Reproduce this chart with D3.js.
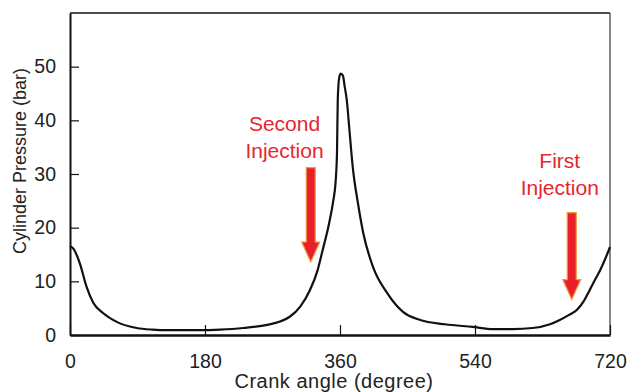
<!DOCTYPE html>
<html>
<head>
<meta charset="utf-8">
<script src="https://cdn.jsdelivr.net/npm/d3@7"></script>
<style>
  body { margin: 0; background: #fff; }
  text { font-family: "Liberation Sans", Arial, sans-serif; }
</style>
</head>
<body>
<div id="chart"></div>
<script>
// crank angle (deg) and cylinder pressure (bar)
var angle    = [0, 5, 13, 22, 31, 44, 63, 89, 110, 130, 173, 200, 231, 263, 280, 293, 307, 320, 330, 337, 345, 351, 354, 356, 357, 359, 361, 364, 366, 369, 373, 377, 384, 391, 404, 423, 444, 467, 500, 537, 564, 590, 617, 640, 653, 666, 676, 685, 693, 700, 707, 714, 720];
var pressure = [16.6, 16.0, 13.4, 9.0, 6.0, 4.1, 2.4, 1.3, 1.0, 0.9, 0.9, 1.0, 1.3, 1.9, 2.5, 3.4, 5.3, 8.4, 12.0, 15.9, 20.5, 25.0, 28.3, 34, 43.8, 48.0, 48.7, 48.3, 46.5, 43.8, 37.5, 31.3, 24.5, 19.0, 12.7, 7.8, 4.3, 2.8, 2.0, 1.5, 1.1, 1.1, 1.3, 2.0, 2.8, 3.8, 4.7, 6.3, 8.4, 10.3, 12.1, 14.3, 16.4];

var xTicks = [0, 180, 360, 540, 720];
var yTicks = [0, 10, 20, 30, 40, 50];

// injection arrows: label lines, angle, start and end pressure
var injLabels = [["Second", "Injection"], ["First", "Injection"]];
var injAngle  = [321, 669];
var injFrom   = [31.2, 22.8];
var injTo     = [13.6, 6.6];
var injLabelAngle = [286, 653];
var injLabelP     = [38.1, 31.2];

var margin = {top: 13, right: 19, bottom: 57, left: 70},
    width = 629 - margin.left - margin.right,
    height = 392 - margin.top - margin.bottom;

var x = d3.scaleLinear().domain([0, 720]).range([0, width]);
var y = d3.scaleLinear().domain([0, 60]).range([height, 0]);

var svg = d3.select("#chart").append("svg")
    .attr("width", 629)
    .attr("height", 392)
  .append("g")
    .attr("transform", "translate(" + margin.left + "," + margin.top + ")");

// frame
svg.append("line").attr("x1", 0).attr("x2", width).attr("y1", 0).attr("y2", 0)
    .style("stroke", "#111").style("stroke-width", 1.5);
svg.append("line").attr("x1", width).attr("x2", width).attr("y1", 0).attr("y2", height)
    .style("stroke", "#444").style("stroke-width", 1.3);

// the curve
var line = d3.line()
    .x(function(d, i) { return x(angle[i]); })
    .y(function(d) { return y(d); })
    .curve(d3.curveMonotoneX);

svg.append("path")
    .datum(pressure)
    .attr("d", line)
    .style("fill", "none")
    .style("stroke", "#111")
    .style("stroke-width", 2.2)
    .style("stroke-linejoin", "round");

// axes with inward ticks
var xAxis = svg.append("g")
    .attr("transform", "translate(0," + height + ")")
    .call(d3.axisBottom(x).tickValues(xTicks).tickSizeInner(-10).tickSizeOuter(0).tickPadding(19));
xAxis.select(".domain").style("stroke", "#111").style("stroke-width", 2.5);
xAxis.selectAll(".tick line").style("stroke", "#111").style("stroke-width", 1.2);
xAxis.selectAll("text").style("font-size", "19.5px").style("fill", "#222");

var yAxis = svg.append("g")
    .call(d3.axisLeft(y).tickValues(yTicks).tickSizeInner(-9).tickSizeOuter(0).tickPadding(14));
yAxis.select(".domain").style("stroke", "#111").style("stroke-width", 2);
yAxis.selectAll(".tick line").style("stroke", "#111").style("stroke-width", 1.2);
yAxis.selectAll("text").style("font-size", "19.5px").style("fill", "#222");

// axis titles
svg.append("text")
    .attr("x", width / 2 - 6)
    .attr("y", height + 53)
    .attr("text-anchor", "middle")
    .style("font-size", "20px")
    .style("letter-spacing", "0.5px")
    .style("fill", "#222")
    .text("Crank angle (degree)");

svg.append("text")
    .attr("transform", "translate(-44," + (height / 2 - 13) + ") rotate(-90)")
    .attr("text-anchor", "middle")
    .style("font-size", "18px")
    .style("fill", "#222")
    .text("Cylinder Pressure (bar)");

// arrows
injAngle.forEach(function(a, i) {
    var cx = x(a), y0 = y(injFrom[i]), y1 = y(injTo[i]);
    var headLen = 20, sw = 4.5, hw = 9;
    var pts = [
        [cx - sw, y0], [cx + sw, y0], [cx + sw, y1 - headLen], [cx + hw, y1 - headLen],
        [cx, y1], [cx - hw, y1 - headLen], [cx - sw, y1 - headLen]
    ];
    svg.append("path")
        .attr("d", d3.line()(pts) + "Z")
        .style("fill", "#e8202a")
        .style("stroke", "#f39a3c")
        .style("stroke-width", 1.2)
        .style("stroke-linejoin", "miter");

    var t = svg.append("text")
        .attr("x", x(injLabelAngle[i]))
        .attr("y", y(injLabelP[i]))
        .attr("text-anchor", "middle")
        .style("font-size", "21px")
        .style("fill", "#e8262d");
    injLabels[i].forEach(function(s, j) {
        t.append("tspan")
            .attr("x", x(injLabelAngle[i]))
            .attr("dy", j === 0 ? 0 : 27)
            .text(s);
    });
});
</script>
</body>
</html>
